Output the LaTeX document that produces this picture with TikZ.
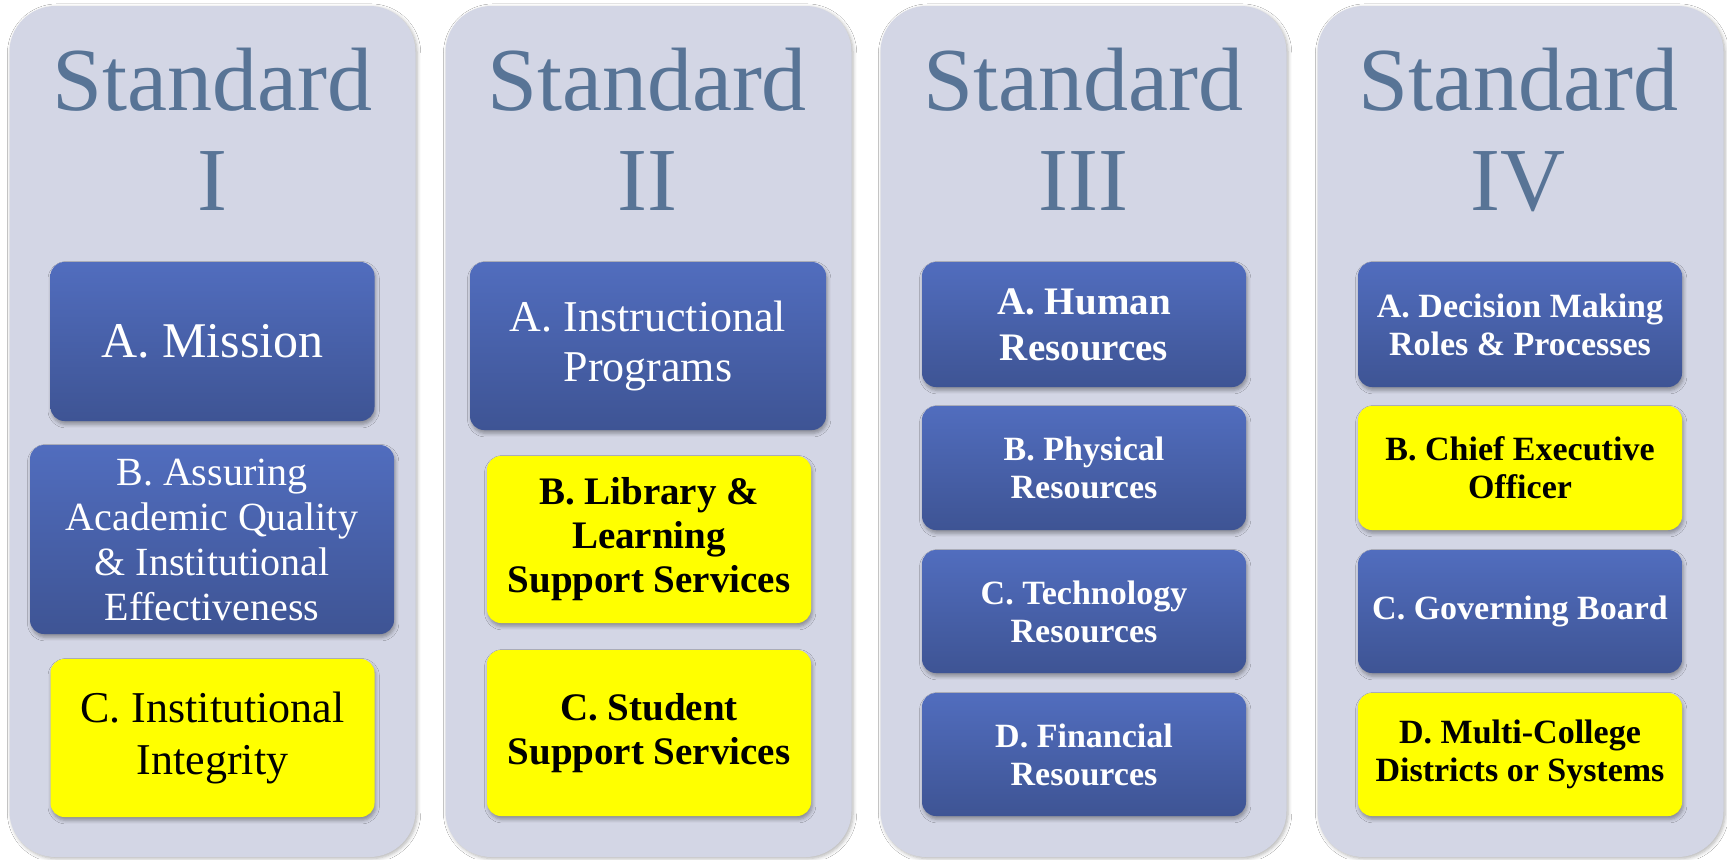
\documentclass[tikz,border=0pt]{standalone}
\usepackage{fontspec}
\setmainfont{Liberation Serif}
\usetikzlibrary{shadows.blur}

\definecolor{colbg}{RGB}{211,214,229}
\definecolor{titleblue}{RGB}{88,116,150}
\definecolor{boxtop}{RGB}{81,109,190}
\definecolor{boxbot}{RGB}{62,84,148}
\definecolor{hiyellow}{RGB}{255,255,0}

\tikzset{
  column/.style={fill=colbg, rounded corners=23pt, inner sep=0pt,
    minimum width=203pt, minimum height=425.5pt,
    blur shadow={shadow xshift=0.8pt, shadow yshift=-0.8pt, shadow opacity=30, shadow blur steps=5}},
  stdtitle/.style={anchor=base, inner sep=0pt, text=titleblue, font=\fontsize{45}{50}\selectfont},
  card/.style={rounded corners=7pt, inner sep=0pt, align=center,
    blur shadow={shadow xshift=0.6pt, shadow yshift=-1.6pt, shadow opacity=35, shadow blur steps=4}},
  bluebox/.style={card, top color=boxtop, bottom color=boxbot, text=white},
  yellowbox/.style={card, fill=hiyellow, text=black},
  wide/.style={minimum width=162pt},
  bigtxt/.style={font=\fontsize{19.5}{23}\selectfont\bfseries},
  smalltxt/.style={font=\fontsize{17}{19}\selectfont\bfseries},
}

\begin{document}
\begin{tikzpicture}[x=0.5pt, y=-0.5pt]
\useasboundingbox[fill=white] (0,0) rectangle (1727,859);

% four columns
\node[column] (col1) at (212.5,431.5) {};
\node[column] (col2) at (648.5,431.5) {};
\node[column] (col3) at (1083.5,431.5) {};
\node[column] (col4) at (1520.5,431.5) {};

% titles
\node[stdtitle] (std1) at (212.5,110) {Standard};
\node[stdtitle] (num1) at (212.5,210) {I};
\node[stdtitle] (std2) at (647,110) {Standard};
\node[stdtitle] (num2) at (647,210) {II};
\node[stdtitle] (std3) at (1083,110) {Standard};
\node[stdtitle] (num3) at (1083,210) {III};
\node[stdtitle] (std4) at (1518,110) {Standard};
\node[stdtitle] (num4) at (1518,210) {IV};

% Standard I
\node[bluebox, wide, minimum height=79.5pt, font=\fontsize{25}{29}\selectfont]
  (s1a) at (212.5,341.5) {A. Mission};
\node[bluebox, minimum width=182pt, minimum height=94.5pt, font=\fontsize{20}{22.5}\selectfont]
  (s1b) at (212,539.5) {B. Assuring\\Academic Quality\\\& Institutional\\Effectiveness};
\node[yellowbox, wide, minimum height=79pt, font=\fontsize{22}{26}\selectfont]
  (s1c) at (212.5,738) {C. Institutional\\Integrity};

% Standard II
\node[bluebox, minimum width=178pt, minimum height=84pt, font=\fontsize{22}{25}\selectfont]
  (s2a) at (648,346) {A. Instructional\\Programs};
\node[yellowbox, wide, minimum height=83.5pt, font=\fontsize{19.5}{22}\selectfont\bfseries]
  (s2b) at (649,539.5) {B. Library \&\\Learning\\Support Services};
\node[yellowbox, wide, minimum height=83pt, font=\fontsize{19.5}{22}\selectfont\bfseries]
  (s2c) at (649,733) {C. Student\\Support Services};

% Standard III
\node[bluebox, wide, minimum height=62.5pt, bigtxt] (s3a) at (1084,324.5) {A. Human\\Resources};
\node[bluebox, wide, minimum height=62pt, smalltxt] (s3b) at (1084,468) {B. Physical\\Resources};
\node[bluebox, wide, minimum height=61.5pt, smalltxt] (s3c) at (1084,611.5) {C. Technology\\Resources};
\node[bluebox, wide, minimum height=61.5pt, smalltxt] (s3d) at (1084,754.5) {D. Financial\\Resources};

% Standard IV
\node[bluebox, wide, minimum height=62.5pt, smalltxt] (s4a) at (1520,324.5) {A. Decision Making\\Roles \& Processes};
\node[yellowbox, wide, minimum height=62pt, smalltxt] (s4b) at (1520,468) {B. Chief Executive\\Officer};
\node[bluebox, wide, minimum height=61.5pt, smalltxt] (s4c) at (1520,611.5) {C. Governing Board};
\node[yellowbox, wide, minimum height=61.5pt, smalltxt] (s4d) at (1520,754.5) {D. Multi-College\\Districts or Systems};
\end{tikzpicture}
\end{document}
